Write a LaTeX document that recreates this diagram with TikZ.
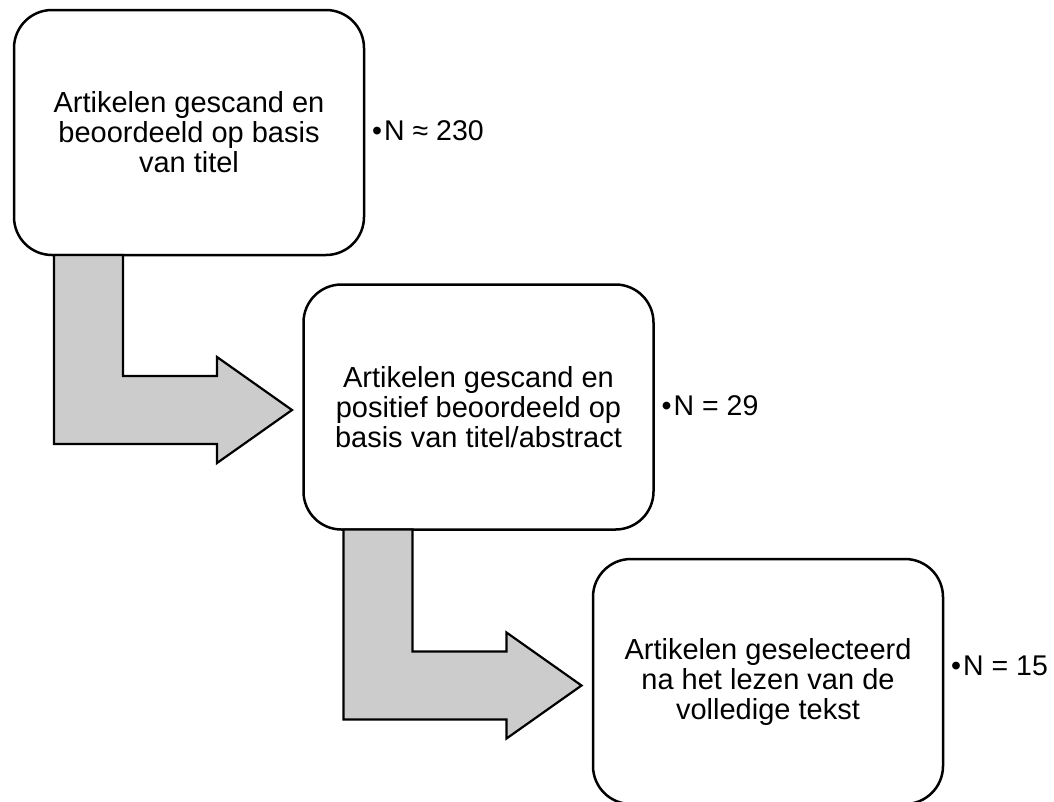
\documentclass[tikz,border=0pt]{standalone}
\usepackage{fontspec}
\setmainfont{Liberation Sans}
\usetikzlibrary{calc}
\tikzset{
  stepbox/.style={draw=black, line width=2.5pt, fill=white, rounded corners=38pt,
    minimum width=350pt, minimum height=245pt, outer sep=0pt, inner sep=0pt,
    align=center, font=\fontsize{29}{30}\selectfont},
  lbl/.style={anchor=base west, inner sep=0pt, font=\fontsize{28.5}{29}\selectfont},
  bentarrow/.style={draw=black, line width=2.2pt, fill=black!20, line join=miter},
}
\begin{document}
\begin{tikzpicture}[x=1pt,y=-1pt]
\useasboundingbox (0,0) rectangle (1054,801);
\node[stepbox] (b1) at (189,132.5) {Artikelen gescand en\\beoordeeld op basis\\van titel};
\node[stepbox] (b2) at (478.5,407) {Artikelen gescand en\\positief beoordeeld op\\basis van titel/abstract};
\node[stepbox] (b3) at (768,681.5) {Artikelen geselecteerd\\na het lezen van de\\volledige tekst};
\node[lbl] (n1) at ([xshift=8pt,yshift=-7.5pt]b1.east) {•\hspace{2pt}N ≈ 230};
\node[lbl] (n2) at ([xshift=8pt,yshift=-8pt]b2.east) {•\hspace{2pt}N = 29};
\node[lbl] (n3) at ([xshift=8pt,yshift=6.5pt]b3.east) {•\hspace{2pt}N = 15};
\draw[bentarrow] ([xshift=40pt]b1.south west) -- ++(69,0) -- ++(0,121) -- ++(94,0)
  -- ++(0,-19) -- ++(75,53) -- ++(-75,53) -- ++(0,-19) -- ++(-163,0) -- cycle;
\draw[bentarrow] ([xshift=40pt]b2.south west) -- ++(69,0) -- ++(0,122) -- ++(94,0)
  -- ++(0,-19) -- ++(75,53) -- ++(-75,53) -- ++(0,-19) -- ++(-163,0) -- cycle;
\end{tikzpicture}
\end{document}
